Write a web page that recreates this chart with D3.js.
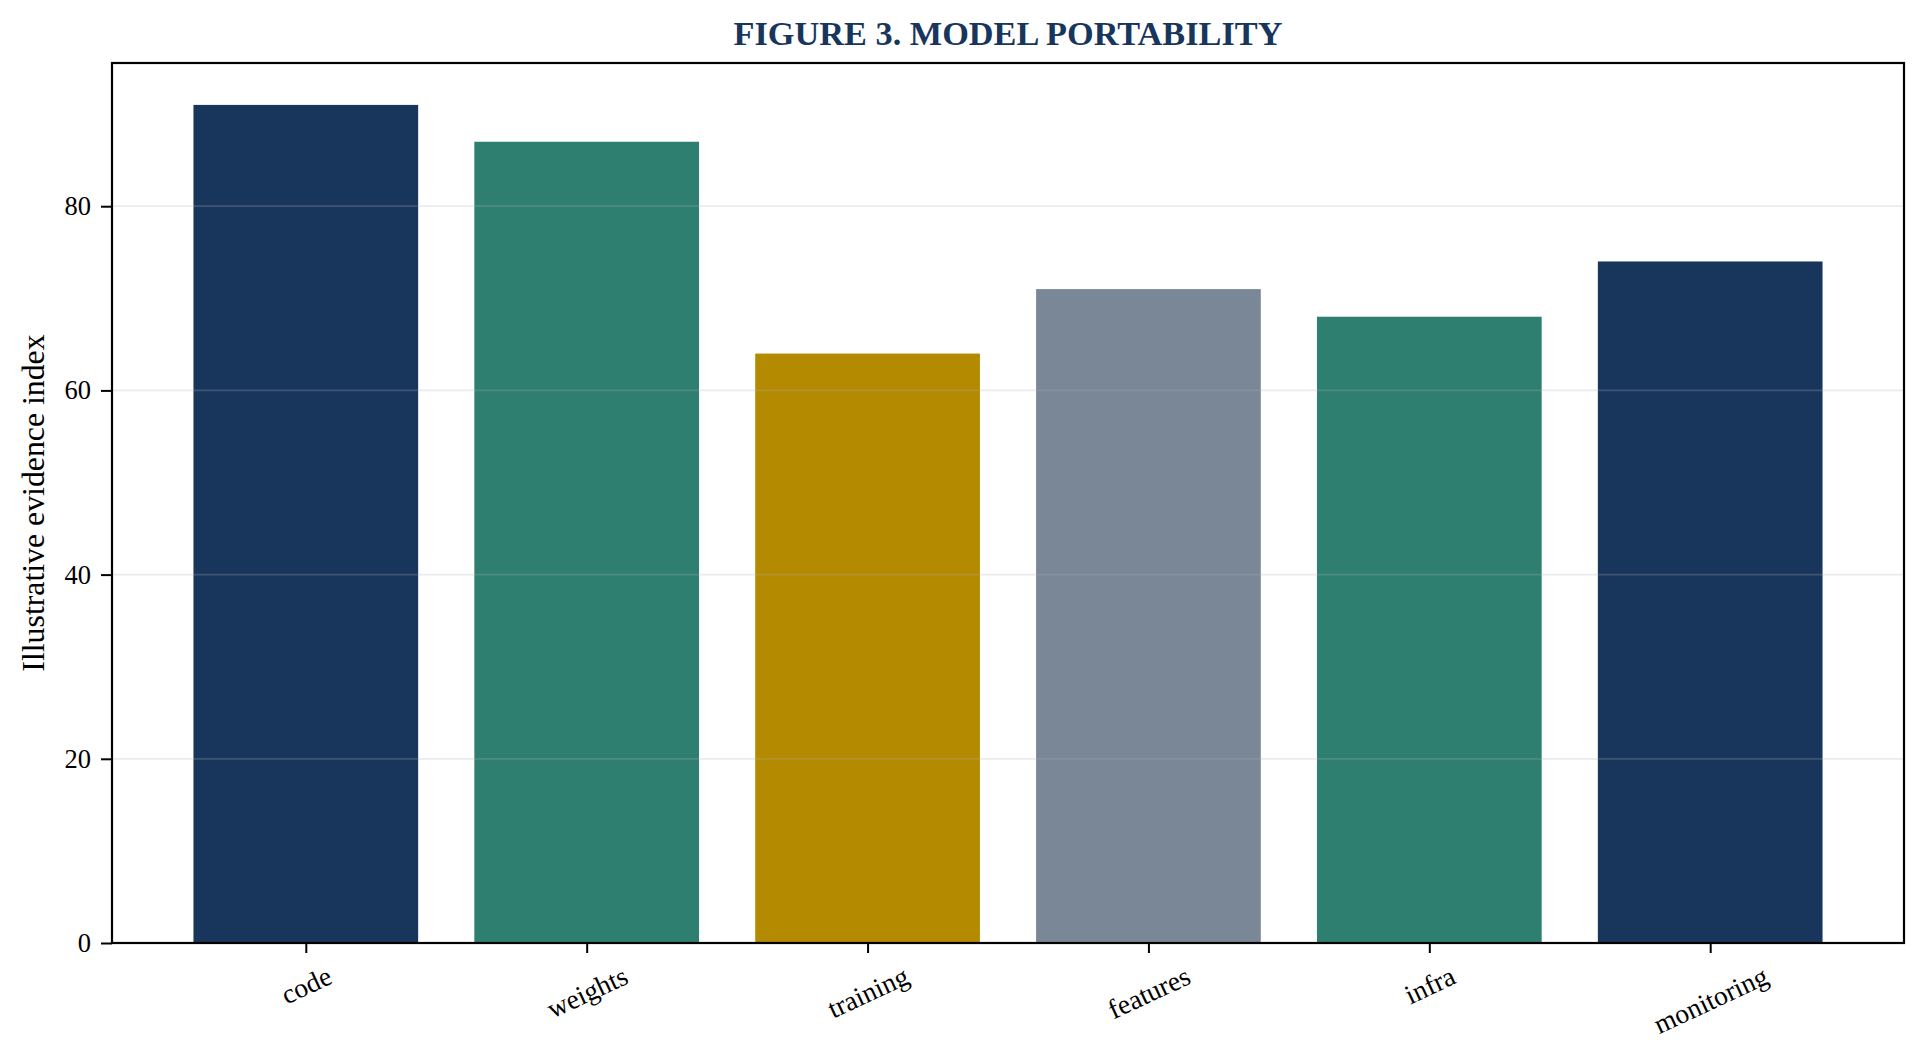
<!DOCTYPE html>
<html>
<head>
<meta charset="utf-8">
<script src="https://cdn.jsdelivr.net/npm/d3@7"></script>
<style>
  body { margin: 0; background: #fff; }
  svg { display: block; font-family: "Liberation Serif", "Times New Roman", serif; }
</style>
</head>
<body>
<script>
// data
const categories = ["code", "weights", "training", "features", "infra", "monitoring"];
const values = [91, 87, 64, 71, 68, 74];
const barColors = ["#18365c", "#2e7f6f", "#b38a00", "#7a8797", "#2e7f6f", "#18365c"];
const yTicks = [0, 20, 40, 60, 80];

const width = 1924, height = 1058;
const margin = { top: 63, right: 20, bottom: 115, left: 112 };
const innerW = width - margin.left - margin.right;
const innerH = height - margin.top - margin.bottom;

const svg = d3.select("body").append("svg")
  .attr("width", width)
  .attr("height", height);

// matplotlib-style x limits: bars width 0.8, 5% margins
const n = categories.length;
const span = (n - 1) + 0.8;
const pad = span * 0.05;
const x = d3.scaleLinear()
  .domain([-0.4 - pad, n - 1 + 0.4 + pad])
  .range([0, innerW]);

const y = d3.scaleLinear()
  .domain([0, d3.max(values) * 1.05])
  .range([innerH, 0]);

const g = svg.append("g")
  .attr("transform", `translate(${margin.left},${margin.top})`);

// bars
g.selectAll("rect.bar")
  .data(values)
  .join("rect")
    .attr("class", "bar")
    .attr("x", (d, i) => x(i - 0.4))
    .attr("width", (d, i) => x(i + 0.4) - x(i - 0.4))
    .attr("y", d => y(d))
    .attr("height", d => y(0) - y(d))
    .attr("fill", (d, i) => barColors[i]);

// grid over the bars, faint
g.append("g")
  .selectAll("line")
  .data(yTicks.filter(d => d > 0))
  .join("line")
    .attr("x1", 0)
    .attr("x2", innerW)
    .attr("y1", d => y(d))
    .attr("y2", d => y(d))
    .attr("stroke", "#b0b0b0")
    .attr("stroke-opacity", 0.25)
    .attr("stroke-width", 1.8);

// y axis
const yAxis = g.append("g")
  .call(d3.axisLeft(y).tickValues(yTicks).tickSize(11).tickPadding(10))
  .call(a => a.select(".domain").remove());
yAxis.selectAll(".tick line").attr("stroke", "#000").attr("stroke-width", 2);
yAxis.selectAll(".tick text")
  .attr("font-family", "Liberation Serif")
  .attr("font-size", 26.5)
  .attr("fill", "#000");

// x axis
const xAxis = g.append("g")
  .attr("transform", `translate(0,${innerH})`)
  .call(d3.axisBottom(x).tickValues(d3.range(n)).tickSize(10).tickFormat(""))
  .call(a => a.select(".domain").remove());
xAxis.selectAll(".tick line").attr("stroke", "#000").attr("stroke-width", 2);

const fs = 27.5, rot = 25, rad = rot * Math.PI / 180;
const labels = xAxis.selectAll(".tick")
  .append("text")
    .attr("font-family", "Liberation Serif")
    .attr("font-size", fs)
    .attr("fill", "#000")
    .attr("text-anchor", "middle")
    .attr("dominant-baseline", "central")
    .text((d, i) => categories[i]);
labels.each(function() {
  const w = this.getComputedTextLength();
  const h = fs * 1.05;
  const H = w * Math.sin(rad) + h * Math.cos(rad);
  const cy = 10 + 8 + H / 2;
  d3.select(this).attr("transform", `translate(0,${cy}) rotate(${-rot})`);
});

// frame
g.append("rect")
  .attr("width", innerW)
  .attr("height", innerH)
  .attr("fill", "none")
  .attr("stroke", "#000")
  .attr("stroke-width", 2.2);

// y label
svg.append("text")
  .attr("transform", `translate(33,${margin.top + innerH / 2}) rotate(-90)`)
  .attr("text-anchor", "middle")
  .attr("dominant-baseline", "central")
  .attr("font-size", 31.8)
  .attr("fill", "#000")
  .text("Illustrative evidence index");

// title
svg.append("text")
  .attr("x", margin.left + innerW / 2)
  .attr("y", 45)
  .attr("text-anchor", "middle")
  .attr("font-size", 34.3)
  .attr("font-weight", "bold")
  .attr("fill", "#18365c")
  .text("FIGURE 3. MODEL PORTABILITY");
</script>
</body>
</html>
